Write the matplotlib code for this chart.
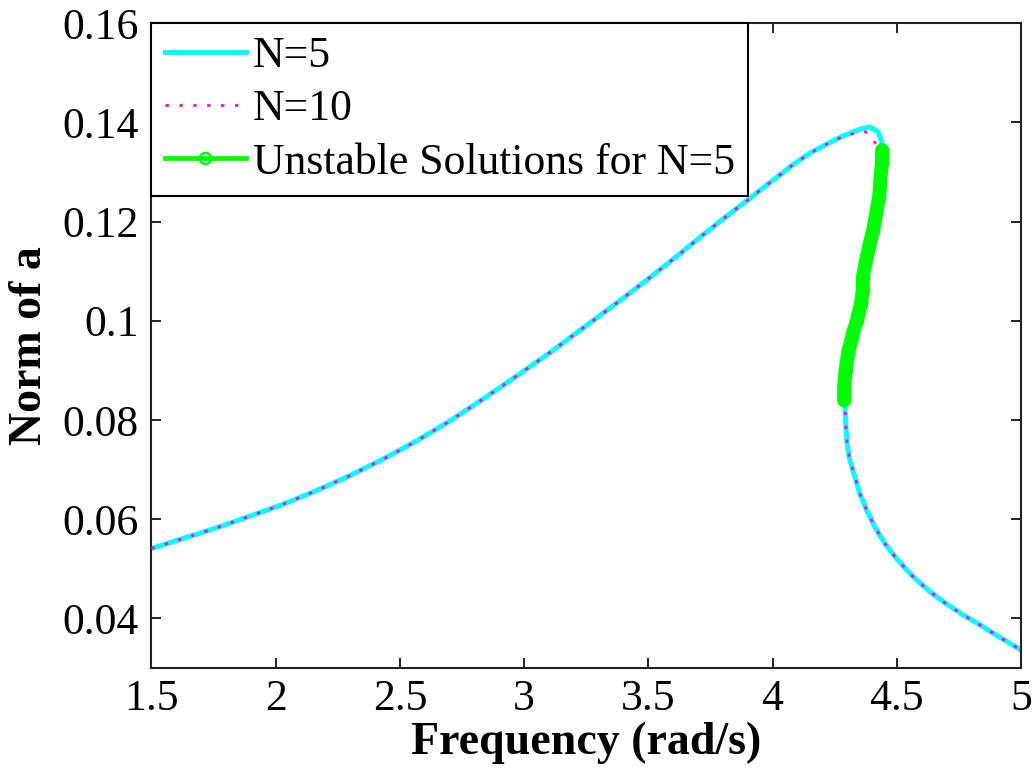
import matplotlib
matplotlib.use("Agg")
import matplotlib.pyplot as plt

# ---- data -------------------------------------------------------------
# upper (resonant) branch, N=5
upper_freq = [1.500, 1.627, 1.764, 1.896, 2.029, 2.166, 2.299, 2.432, 2.568,
              2.701, 2.834, 2.971, 3.104, 3.236, 3.373, 3.506, 3.639, 3.707,
              3.800, 3.896, 3.949, 4.016, 4.083, 4.150, 4.217, 4.284, 4.351,
              4.391, 4.425, 4.439]
upper_norm = [0.0541, 0.0561, 0.0583, 0.0606, 0.0630, 0.0658, 0.0688, 0.0721,
              0.0758, 0.0798, 0.0842, 0.0889, 0.0936, 0.0985, 0.1036, 0.1087,
              0.1140, 0.1168, 0.1205, 0.1242, 0.1263, 0.1289, 0.1315, 0.1338,
              0.1356, 0.1373, 0.1386, 0.1391, 0.1381, 0.1361]

# unstable middle branch, N=5
unstable_freq = [4.441, 4.440, 4.434, 4.429, 4.417, 4.405, 4.388, 4.374, 4.364,
                 4.363, 4.356, 4.340, 4.320, 4.304, 4.294, 4.288, 4.288]
unstable_norm = [0.1344, 0.1318, 0.1284, 0.1250, 0.1217, 0.1183, 0.1149, 0.1116,
                 0.1089, 0.1062, 0.1035, 0.1002, 0.0968, 0.0935, 0.0901, 0.0867,
                 0.0840]

# lower branch
lower_freq = [4.291, 4.295, 4.300, 4.311, 4.331, 4.351, 4.378, 4.411, 4.452,
              4.492, 4.539, 4.566, 4.633, 4.700, 4.767, 4.834, 4.901, 4.961,
              5.000]
lower_norm = [0.0834, 0.0787, 0.0753, 0.0719, 0.0686, 0.0652, 0.0619, 0.0585,
              0.0551, 0.0525, 0.0498, 0.0484, 0.0454, 0.0429, 0.0407, 0.0387,
              0.0366, 0.0348, 0.0336]

# N=10 departs slightly from N=5 around the turning point
peak10_freq = [4.284, 4.338, 4.375, 4.409]
peak10_norm = [0.1372, 0.1379, 0.1381, 0.1361]

x_ticks = [1.5, 2, 2.5, 3, 3.5, 4, 4.5, 5]
x_ticklabels = ["1.5", "2", "2.5", "3", "3.5", "4", "4.5", "5"]
y_ticks = [0.04, 0.06, 0.08, 0.10, 0.12, 0.14, 0.16]
y_ticklabels = ["0.04", "0.06", "0.08", "0.1", "0.12", "0.14", "0.16"]

# ---- assemble curves ----------------------------------------------------
n5_freq = upper_freq + unstable_freq + lower_freq
n5_norm = upper_norm + unstable_norm + lower_norm
n10_freq = upper_freq[:-5] + peak10_freq + unstable_freq + lower_freq
n10_norm = upper_norm[:-5] + peak10_norm + unstable_norm + lower_norm

CYAN = (0.0, 1.0, 1.0)
MAGENTA = (1.0, 0.0, 1.0)
GREEN = (0.0, 1.0, 0.0)

plt.rcParams["font.family"] = ["Liberation Serif", "DejaVu Serif"]

fig = plt.figure(figsize=(10.36, 7.75), dpi=100)
ax = fig.add_axes([0.1462, 0.1381, 0.8393, 0.8319])

ax.plot(n5_freq, n5_norm, color=CYAN, lw=3.6, label="N=5", zorder=2)
ax.plot(n10_freq, n10_norm, color=MAGENTA, lw=2.0, linestyle=(0, (1.2, 3.8)),
        label="N=10", zorder=3)
# dense unstable solutions form a solid band
ax.plot(unstable_freq, unstable_norm, color=GREEN, lw=10,
        solid_capstyle="round", zorder=4)
ax.plot(unstable_freq, unstable_norm, color=GREEN, lw=3.4, marker="o",
        ms=8, mfc="none", mec=GREEN, mew=1.8,
        label="Unstable Solutions for N=5", zorder=5)

ax.set_xlim(1.5, 5)
ax.set_ylim(0.03, 0.16)
ax.set_xticks(x_ticks)
ax.set_xticklabels(x_ticklabels)
ax.set_yticks(y_ticks)
ax.set_yticklabels(y_ticklabels)

ax.tick_params(direction="in", length=7.5, width=1.2, labelsize=31.5,
               top=True, right=True, colors="black")
ax.tick_params(axis="y", pad=9)
ax.tick_params(axis="x", pad=8)
for sp in ax.spines.values():
    sp.set_linewidth(1.5)
    sp.set_color("#222222")

ax.set_xlabel("Frequency (rad/s)", fontsize=33, fontweight="bold", labelpad=2)
ax.set_ylabel("Norm of a", fontsize=33, fontweight="bold", labelpad=8)

leg = ax.legend(loc="upper left", borderaxespad=0, fontsize=31.5,
                frameon=True, fancybox=False, framealpha=1, edgecolor="black",
                handlelength=1.85, handletextpad=0.16, labelspacing=0.3,
                borderpad=0.3, numpoints=1)
leg.get_frame().set_linewidth(1.5)
leg.set_zorder(10)

fig.savefig("out.png", dpi=100, facecolor="white")
